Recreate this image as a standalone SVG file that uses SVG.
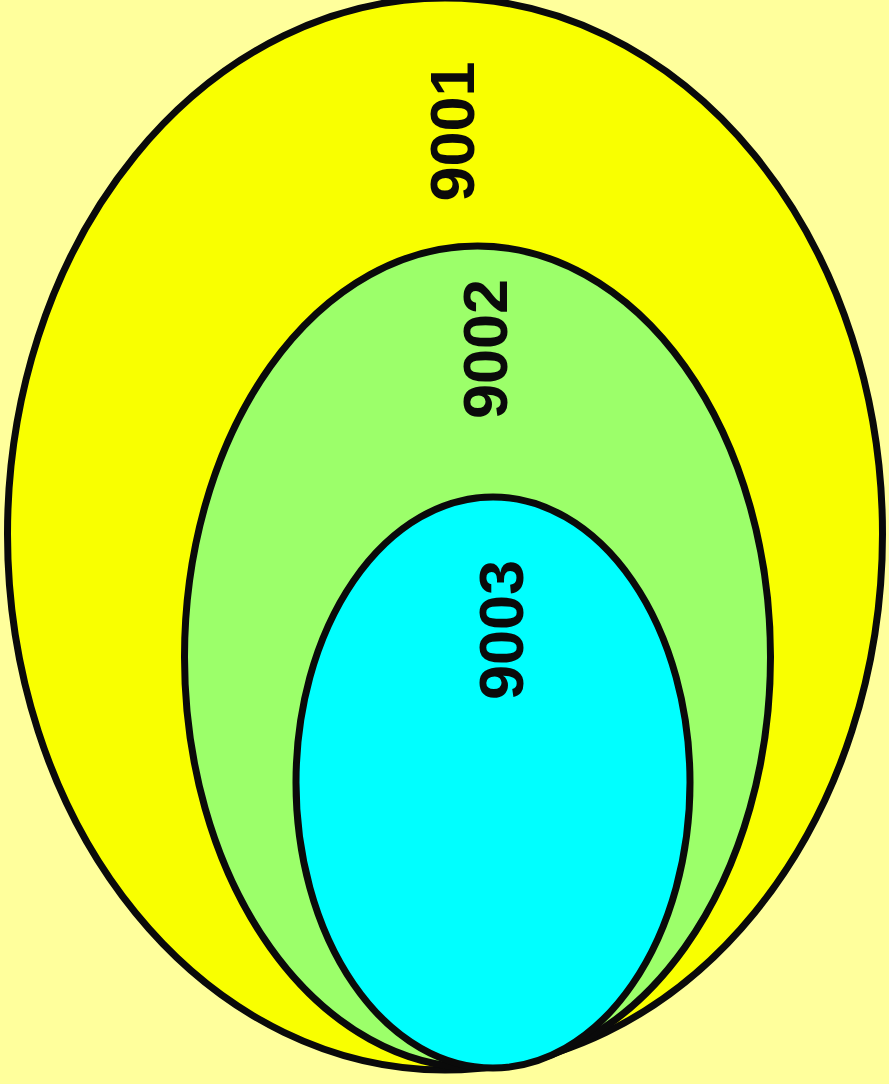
<svg xmlns="http://www.w3.org/2000/svg" width="889" height="1084" viewBox="0 0 889 1084">
<style>
.e{stroke:#0a0a0a;stroke-width:7}
.t{font-family:"Liberation Sans",Arial,sans-serif;font-weight:bold;font-size:63px;fill:#0a0a0a;text-anchor:middle}
</style>
<rect width="889" height="1084" fill="#ffff9c"/>
<g id="n9001"><ellipse class="e" cx="445" cy="534" rx="437.5" ry="536" fill="#f9ff00"/></g>
<g id="n9002"><ellipse class="e" cx="477.5" cy="657" rx="293" ry="411" fill="#9cff6a"/></g>
<g id="n9003"><ellipse class="e" cx="493" cy="782.5" rx="197" ry="285.5" fill="#00ffff"/></g>
<g id="labels">
<text class="t" transform="translate(474,131.5) rotate(-90)">9001</text>
<text class="t" transform="translate(507,349) rotate(-90)">9002</text>
<text class="t" transform="translate(523,630) rotate(-90)">9003</text>
</g>
<g id="connectors"/>
</svg>
